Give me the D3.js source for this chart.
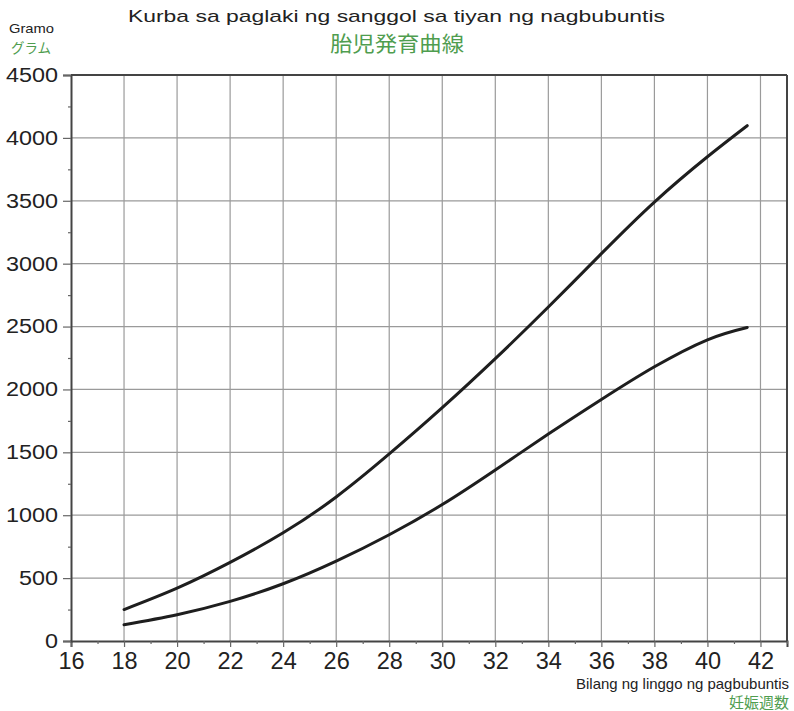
<!DOCTYPE html>
<html>
<head>
<meta charset="utf-8">
<script src="https://cdn.jsdelivr.net/npm/d3@7"></script>
<style>
  body { margin: 0; background: #fff; }
  svg { display: block; }
</style>
</head>
<body>
<svg id="chart" width="794" height="711"></svg>
<script>
const weeks = [18, 20, 22, 24, 26, 28, 30, 32, 34, 36, 38, 40, 41.5];
const upperSeries = [250, 420, 625, 860, 1145, 1487, 1855, 2245, 2655, 3080, 3490, 3850, 4097];
const lowerSeries = [130, 209, 315, 455, 635, 845, 1085, 1360, 1645, 1920, 2180, 2395, 2493];
const xTicks = [16, 18, 20, 22, 24, 26, 28, 30, 32, 34, 36, 38, 40, 42];
const xMinorTicks = [17, 19, 21, 23, 25, 27, 29, 31, 33, 35, 37, 39, 41, 43];
const yTicks = [0, 500, 1000, 1500, 2000, 2500, 3000, 3500, 4000, 4500];
const yMinorTicks = [250, 750, 1250, 1750, 2250, 2750, 3250, 3750, 4250];

const titleText = "Kurba sa paglaki ng sanggol sa tiyan ng nagbubuntis";
const titleJa = "胎児発育曲線";
const yLabel = "Gramo";
const yLabelJa = "グラム";
const xLabel = "Bilang ng linggo ng pagbubuntis";
const xLabelJa = "妊娠週数";

const green = "#4f9d4f";
const font = "'Liberation Sans', Arial, Helvetica, sans-serif";
const cjk = "'Noto Sans CJK JP', 'Noto Sans CJK SC', sans-serif";

const svg = d3.select("#chart");
const x = d3.scaleLinear().domain([16, 43]).range([71, 787]);
const y = d3.scaleLinear().domain([0, 4500]).range([641, 75]);

// grid
const grid = svg.append("g");
grid.selectAll("line.v").data(xTicks.filter(d => d > 16)).join("line")
  .attr("x1", d => x(d)).attr("x2", d => x(d))
  .attr("y1", y(0)).attr("y2", y(4500))
  .attr("stroke", "#9a9a9a").attr("stroke-width", 1.2);
grid.selectAll("line.h").data(yTicks.filter(d => d > 0)).join("line")
  .attr("x1", x(16)).attr("x2", x(43))
  .attr("y1", d => y(d)).attr("y2", d => y(d))
  .attr("stroke", "#9a9a9a").attr("stroke-width", 1.2);

// frame (top & right)
svg.append("line").attr("x1", x(16)).attr("x2", x(43)).attr("y1", y(4500)).attr("y2", y(4500))
  .attr("stroke", "#444").attr("stroke-width", 2);
svg.append("line").attr("x1", x(43)).attr("x2", x(43)).attr("y1", y(4500)).attr("y2", y(0))
  .attr("stroke", "#444").attr("stroke-width", 2);

// axes
const xAxis = svg.append("g").attr("transform", `translate(0,${y(0)})`)
  .call(d3.axisBottom(x).tickValues(xTicks).tickSize(6).tickPadding(5).tickFormat(d3.format("d")));
const xMinor = svg.append("g").attr("transform", `translate(0,${y(0)})`)
  .call(d3.axisBottom(x).tickValues(xMinorTicks).tickSize(3).tickFormat(""));
const yAxis = svg.append("g").attr("transform", `translate(${x(16)},0)`)
  .call(d3.axisLeft(y).tickValues(yTicks).tickSize(8).tickPadding(5).tickFormat(d3.format("d")));
const yMinor = svg.append("g").attr("transform", `translate(${x(16)},0)`)
  .call(d3.axisLeft(y).tickValues(yMinorTicks).tickSize(3).tickFormat(""));

[xAxis, xMinor, yAxis, yMinor].forEach(g => {
  g.select(".domain").attr("stroke", "#444").attr("stroke-width", 2);
  g.selectAll(".tick line").attr("stroke", "#666").attr("stroke-width", 1.2);
});
xMinor.select(".domain").remove();
yMinor.select(".domain").remove();
xAxis.selectAll(".tick text").attr("font-family", font).attr("font-size", 23.5).attr("fill", "#222")
  .attr("dy", "0.72em");
yAxis.selectAll(".tick text").attr("font-family", font).attr("font-size", 20).attr("fill", "#222")
  .attr("textLength", d => String(d).length * 13).attr("lengthAdjust", "spacingAndGlyphs");

// curves
const line = d3.line().x(d => x(d[0])).y(d => y(d[1])).curve(d3.curveNatural);
[upperSeries, lowerSeries].forEach(series => {
  svg.append("path")
    .datum(weeks.map((w, i) => [w, series[i]]))
    .attr("d", line)
    .attr("fill", "none")
    .attr("stroke", "#1e1e1e")
    .attr("stroke-width", 3)
    .attr("stroke-linecap", "round");
});

// texts
svg.append("text").attr("x", 128).attr("y", 22)
  .attr("font-family", font).attr("font-size", 17).attr("fill", "#222")
  .attr("textLength", 537).attr("lengthAdjust", "spacingAndGlyphs").text(titleText);
svg.append("text").attr("x", 330).attr("y", 51)
  .attr("font-family", cjk).attr("font-size", 21).attr("fill", green)
  .attr("textLength", 134).attr("lengthAdjust", "spacingAndGlyphs").text(titleJa);
svg.append("text").attr("x", 9).attr("y", 33)
  .attr("font-family", font).attr("font-size", 13.5).attr("fill", "#222")
  .attr("textLength", 45).attr("lengthAdjust", "spacingAndGlyphs").text(yLabel);
svg.append("text").attr("x", 31).attr("y", 53).attr("text-anchor", "middle")
  .attr("font-family", cjk).attr("font-size", 13.5).attr("fill", green).text(yLabelJa);
svg.append("text").attr("x", 576).attr("y", 689)
  .attr("font-family", font).attr("font-size", 15).attr("fill", "#222")
  .attr("textLength", 213).attr("lengthAdjust", "spacingAndGlyphs").text(xLabel);
svg.append("text").attr("x", 789).attr("y", 708).attr("text-anchor", "end")
  .attr("font-family", cjk).attr("font-size", 15).attr("fill", green).text(xLabelJa);
</script>
</body>
</html>
